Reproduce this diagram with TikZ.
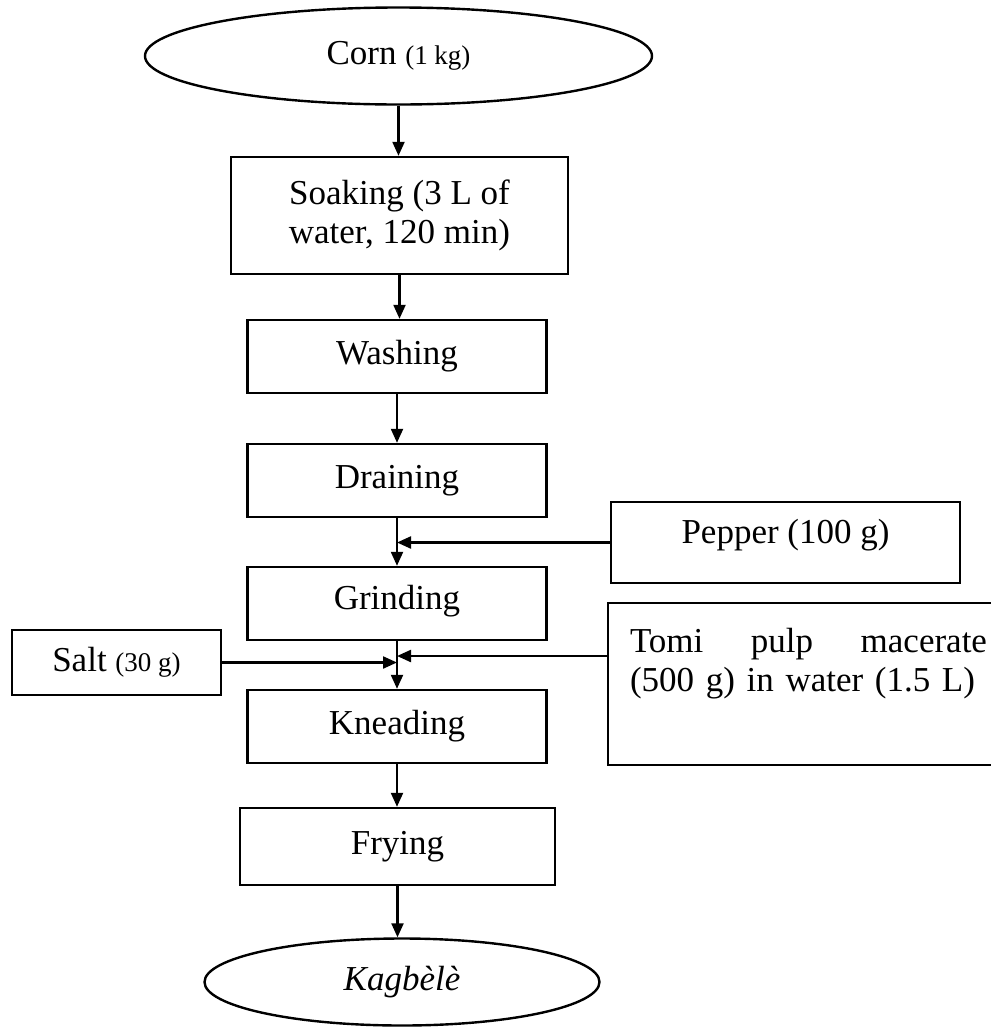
\documentclass[tikz,border=0pt]{standalone}
\usepackage{fontspec}
\setmainfont{Liberation Serif}
\usetikzlibrary{shapes.geometric,arrows.meta}
\begin{document}
\begin{tikzpicture}[x=1pt,y=-1pt,
  box/.style={draw,line width=2.4pt,rectangle,inner sep=0pt,align=center,font=\fontsize{35}{39}\selectfont},
  oval/.style={draw,line width=2.4pt,ellipse,inner sep=0pt,font=\fontsize{35}{39}\selectfont},
  arr/.style={line width=2.2pt,-{Triangle[length=14pt,width=12pt]}}]
\clip (0,0) rectangle (991,1029);
\fill[white] (0,0) rectangle (991,1029);
\node[oval,minimum width=507pt,minimum height=97pt] (corn) at (398.5,56) {Corn {\fontsize{27}{30}\selectfont(1 kg)}};
\node[box,minimum width=337pt,minimum height=117pt] (soak) at (399.5,215.5) {Soaking (3 L of\\water, 120 min)};
\node[box,minimum width=299pt,minimum height=73pt] (wash) at (397,356.5) {Washing};
\node[box,minimum width=299pt,minimum height=73pt] (drain) at (397,480.5) {Draining};
\node[box,minimum width=299pt,minimum height=73pt,text height=25pt,text depth=14pt] (grind) at (397,603.5) {Grinding};
\node[box,minimum width=299pt,minimum height=73pt] (knead) at (397,726.5) {Kneading};
\node[box,minimum width=315pt,minimum height=77pt] (fry) at (397.5,846.5) {Frying};
\node[oval,minimum width=395pt,minimum height=87pt] (kag) at (402,982) {\textit{Kagbèlè}};
\node[box,minimum width=349pt,minimum height=81pt,text height=25pt,text depth=24pt] (pepper) at (785.5,542.5) {Pepper (100 g)};
\node[box,minimum width=209pt,minimum height=65pt] (salt) at (116.5,662.5) {Salt {\fontsize{27}{30}\selectfont(30 g)}};
\node[box,minimum width=401pt,minimum height=162pt,align=left,text width=357pt,text height=25pt,text depth=88pt] (tomi) at (808.5,684) {\makebox[357pt][l]{Tomi\hfill pulp\hfill macerate}\\(500 g) in water (1.5 L)};
\draw[arr] (corn.south) -- (corn.south |- soak.north);
\draw[arr] (soak.south) -- (soak.south |- wash.north);
\draw[arr] (wash.south) -- (drain.north);
\draw[arr] (drain.south) -- (grind.north);
\draw[arr] (grind.south) -- (knead.north);
\draw[arr] (knead.south) -- (knead.south |- fry.north);
\draw[arr] (fry.south) -- (fry.south |- kag.north);
\draw[arr] (pepper.west) -- (pepper.west -| grind.north);
\draw[arr] (salt.east) -- (salt.east -| knead.north);
\draw[arr] ([yshift=28pt]tomi.west) -- ([yshift=28pt]tomi.west -| knead.north);
\end{tikzpicture}
\end{document}
